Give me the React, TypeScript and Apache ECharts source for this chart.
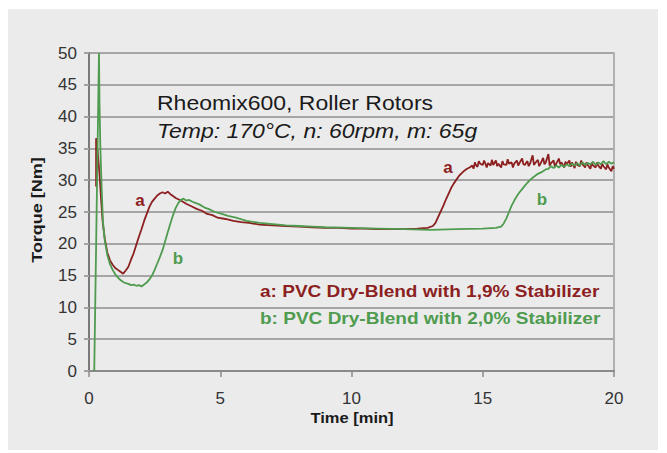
import React, { useEffect, useRef } from "react";
import * as echarts from "echarts";

// Time [min] / Torque [Nm] samples
const seriesA: [number, number][] = [
  [0.27, 29.0], [0.27, 36.6], [0.33, 34.5], [0.4, 31.0], [0.46, 27.0], [0.52, 23.5], [0.6, 20.8],
  [0.7, 18.6], [0.8, 17.4], [0.9, 16.7], [1.0, 16.2], [1.1, 15.9], [1.2, 15.6], [1.3, 15.3],
  [1.4, 15.8], [1.5, 16.4], [1.6, 17.5], [1.7, 18.5], [1.8, 19.8], [1.9, 21.1], [2.0, 22.3],
  [2.1, 23.6], [2.2, 24.7], [2.3, 25.8], [2.4, 26.6], [2.5, 27.1], [2.6, 27.6], [2.7, 27.9],
  [2.8, 28.1], [2.9, 27.9], [3.0, 28.2], [3.1, 27.8], [3.2, 27.5], [3.3, 27.2], [3.4, 27.0],
  [3.5, 26.8], [3.7, 26.3], [3.9, 25.9], [4.1, 25.5], [4.3, 25.2], [4.5, 24.7], [4.7, 24.5],
  [4.9, 24.1], [5.2, 23.9], [5.5, 23.6], [5.8, 23.4], [6.1, 23.3], [6.5, 23.0], [7.0, 22.9],
  [7.5, 22.8], [8.0, 22.7], [8.5, 22.6], [9.0, 22.5], [9.5, 22.5], [10.0, 22.4], [10.5, 22.4],
  [11.0, 22.3], [11.5, 22.3], [12.0, 22.3], [12.5, 22.4], [12.9, 22.5], [13.1, 22.8], [13.2, 23.3],
  [13.3, 24.2], [13.4, 25.1], [13.5, 26.0], [13.6, 27.0], [13.7, 27.9], [13.8, 28.8], [13.9, 29.5],
  [14.0, 30.1], [14.1, 30.7], [14.2, 31.1], [14.3, 31.5], [14.4, 31.8], [14.5, 32.0],
  [14.6, 32.3], [14.65, 31.8], [14.7, 32.8], [14.75, 32.3], [14.8, 32.1], [14.85, 33.0], [14.9, 32.6],
  [15.0, 32.4], [15.05, 33.1], [15.1, 32.6], [15.15, 32.0], [15.2, 32.7], [15.3, 32.3], [15.35, 33.2],
  [15.4, 32.4], [15.5, 33.1], [15.55, 32.2], [15.6, 32.6], [15.7, 32.0], [15.75, 33.0], [15.8, 32.5],
  [15.9, 32.4], [15.95, 33.3], [16.0, 32.6], [16.1, 32.8], [16.15, 32.0], [16.2, 32.6], [16.3, 33.1],
  [16.35, 32.3], [16.4, 32.7], [16.5, 33.4], [16.55, 32.5], [16.6, 32.4], [16.7, 33.0], [16.75, 32.2],
  [16.8, 32.6], [16.9, 33.9], [16.95, 32.4], [17.0, 32.7], [17.1, 33.2], [17.15, 32.2], [17.2, 32.6],
  [17.3, 33.5], [17.35, 32.5], [17.4, 32.8], [17.5, 34.1], [17.55, 32.3], [17.6, 32.7], [17.7, 33.1],
  [17.75, 32.1], [17.8, 32.6], [17.9, 33.4], [17.95, 32.5], [18.0, 32.8], [18.1, 32.0], [18.15, 32.9],
  [18.2, 32.5], [18.3, 33.1], [18.35, 32.1], [18.4, 32.8], [18.5, 31.9], [18.55, 32.9], [18.6, 32.4],
  [18.7, 32.2], [18.75, 33.1], [18.8, 32.5], [18.9, 32.0], [18.95, 32.8], [19.0, 32.4], [19.1, 31.8],
  [19.15, 32.7], [19.2, 32.3], [19.3, 32.0], [19.35, 32.8], [19.4, 32.3], [19.5, 31.8], [19.55, 32.6],
  [19.6, 32.2], [19.7, 31.7], [19.75, 32.5], [19.8, 32.0], [19.9, 31.4], [19.95, 32.2], [20.0, 31.8],
];

const seriesB: [number, number][] = [
  [0.2, 0.0], [0.38, 50.0], [0.4, 42.0], [0.43, 35.5], [0.48, 29.0], [0.53, 23.5], [0.6, 20.6],
  [0.7, 18.2], [0.8, 16.8], [0.9, 15.9], [1.0, 15.2], [1.1, 14.7], [1.2, 14.3], [1.3, 14.0],
  [1.4, 13.8], [1.5, 13.7], [1.6, 13.5], [1.7, 13.6], [1.8, 13.4], [1.9, 13.5], [2.0, 13.3],
  [2.1, 13.6], [2.2, 13.9], [2.3, 14.4], [2.4, 15.0], [2.5, 15.9], [2.6, 16.9], [2.7, 17.9],
  [2.8, 19.0], [2.9, 20.4], [3.0, 21.8], [3.1, 23.2], [3.2, 24.5], [3.3, 25.6], [3.4, 26.4],
  [3.5, 26.9], [3.6, 27.1], [3.7, 26.8], [3.8, 26.9], [4.0, 26.5], [4.2, 26.2], [4.4, 25.7],
  [4.6, 25.4], [4.8, 25.0], [5.0, 24.8], [5.3, 24.4], [5.6, 24.1], [6.0, 23.6], [6.5, 23.3],
  [7.0, 23.1], [7.5, 22.9], [8.0, 22.8], [8.5, 22.7], [9.0, 22.6], [10.0, 22.5], [11.0, 22.4],
  [12.0, 22.3], [13.0, 22.2], [14.0, 22.3], [15.0, 22.4], [15.5, 22.5], [15.7, 22.7], [15.8, 23.2],
  [15.9, 24.0], [16.0, 25.0], [16.1, 26.0], [16.2, 26.8], [16.3, 27.5], [16.4, 28.1], [16.5, 28.6],
  [16.6, 29.1], [16.7, 29.6], [16.8, 30.0], [16.9, 30.4], [17.0, 30.7], [17.1, 31.0], [17.2, 31.2],
  [17.3, 31.4], [17.4, 31.7], [17.5, 31.8], [17.6, 32.2], [17.7, 31.9], [17.8, 32.3], [17.9, 32.0],
  [18.0, 32.4], [18.1, 32.1], [18.2, 32.5], [18.3, 32.2], [18.4, 32.6], [18.5, 32.3], [18.6, 32.7],
  [18.7, 32.3], [18.8, 32.8], [18.9, 32.4], [19.0, 32.7], [19.1, 32.5], [19.2, 32.9], [19.3, 32.4],
  [19.4, 32.8], [19.5, 32.5], [19.6, 33.0], [19.7, 32.5], [19.8, 32.9], [19.9, 32.6], [20.0, 32.8],
];

const xTicks = { min: 0, max: 20, interval: 5 };
const yTicks = { min: 0, max: 50, interval: 5 };

const titleLine1 = "Rheomix600, Roller Rotors";
const titleLine2 = "Temp: 170°C, n: 60rpm, m: 65g";
const legendA = "a: PVC Dry-Blend with 1,9% Stabilizer";
const legendB = "b: PVC Dry-Blend with 2,0% Stabilizer";
const xName = "Time [min]";
const yName = "Torque [Nm]";

const RED = "#8c1f1f";
const GREEN = "#4f9b4f";
const FONT = "'Liberation Sans', Arial, sans-serif";

export default function App() {
  const ref = useRef<HTMLDivElement>(null);
  useEffect(() => {
    if (!ref.current) return;
    const chart = echarts.init(ref.current, undefined, { renderer: "svg" });
    chart.setOption({
      animation: false,
      backgroundColor: "#ffffff",
      grid: { left: 89, right: 53, top: 53, bottom: 82, show: false },
      xAxis: {
        type: "value",
        ...xTicks,
        axisLine: { show: true, lineStyle: { color: "#8a8a8a", width: 2 } },
        axisTick: { show: true, length: 6, lineStyle: { color: "#8a8a8a", width: 1.5 } },
        axisLabel: { color: "#333", fontSize: 17, fontFamily: FONT, margin: 19 },
        splitLine: { show: false },
      },
      yAxis: [
        {
          type: "value",
          ...yTicks,
          axisLine: { show: true, lineStyle: { color: "#7a7a7a", width: 2 } },
          axisTick: { show: true, length: 5, lineStyle: { color: "#a3a3a3", width: 2 } },
          axisLabel: { color: "#333", fontSize: 17, fontFamily: FONT, margin: 12 },
          splitLine: { show: true, lineStyle: { color: "#a5a5a5", width: 2 } },
        },
        {
          type: "value",
          ...yTicks,
          position: "right",
          axisLine: { show: true, lineStyle: { color: "#b0b0b0", width: 2 } },
          axisTick: { show: false },
          axisLabel: { show: false },
          splitLine: { show: false },
        },
      ],
      graphic: [
        {
          type: "rect",
          z: -10,
          silent: true,
          shape: { x: 8, y: 9, width: 650, height: 441 },
          style: { fill: "#ebebeb" },
        },
        {
          type: "text", x: 157, y: 103, z: 10, scaleX: 1.15,
          style: { text: titleLine1, fill: "#1a1a1a", font: `20px ${FONT}`, verticalAlign: "middle" },
        },
        {
          type: "text", x: 157, y: 131, z: 10, scaleX: 1.15,
          style: { text: titleLine2, fill: "#1a1a1a", font: `italic 20px ${FONT}`, verticalAlign: "middle" },
        },
        {
          type: "text", x: 260, y: 291, z: 10, scaleX: 1.12,
          style: { text: legendA, fill: RED, font: `bold 17px ${FONT}`, verticalAlign: "middle" },
        },
        {
          type: "text", x: 260, y: 318, z: 10, scaleX: 1.12,
          style: { text: legendB, fill: GREEN, font: `bold 17px ${FONT}`, verticalAlign: "middle" },
        },
        {
          type: "text", x: 140, y: 200, z: 10,
          style: { text: "a", fill: RED, font: `bold 17px ${FONT}`, align: "center", verticalAlign: "middle" },
        },
        {
          type: "text", x: 448, y: 167, z: 10,
          style: { text: "a", fill: RED, font: `bold 17px ${FONT}`, align: "center", verticalAlign: "middle" },
        },
        {
          type: "text", x: 178, y: 258, z: 10,
          style: { text: "b", fill: GREEN, font: `bold 17px ${FONT}`, align: "center", verticalAlign: "middle" },
        },
        {
          type: "text", x: 542, y: 199, z: 10,
          style: { text: "b", fill: GREEN, font: `bold 17px ${FONT}`, align: "center", verticalAlign: "middle" },
        },
        {
          type: "text", x: 352, y: 418, z: 10, scaleX: 1.1,
          style: { text: xName, fill: "#1a1a1a", font: `bold 15px ${FONT}`, align: "center", verticalAlign: "middle" },
        },
        {
          type: "text", x: 37, y: 210, z: 10, rotation: Math.PI / 2, scaleX: 1.2,
          style: { text: yName, fill: "#1a1a1a", font: `bold 15px ${FONT}`, align: "center", verticalAlign: "middle" },
        },
      ],
      series: [
        {
          name: "a",
          type: "line",
          data: seriesA,
          showSymbol: false,
          lineStyle: { color: RED, width: 1.8 },
          z: 3,
        },
        {
          name: "b",
          type: "line",
          data: seriesB,
          showSymbol: false,
          lineStyle: { color: GREEN, width: 1.8 },
          z: 4,
        },
      ],
    });
    return () => chart.dispose();
  }, []);
  return (
    <div
      ref={ref}
      style={{ position: "fixed", left: 0, top: 0, width: 667, height: 453 }}
    />
  );
}
